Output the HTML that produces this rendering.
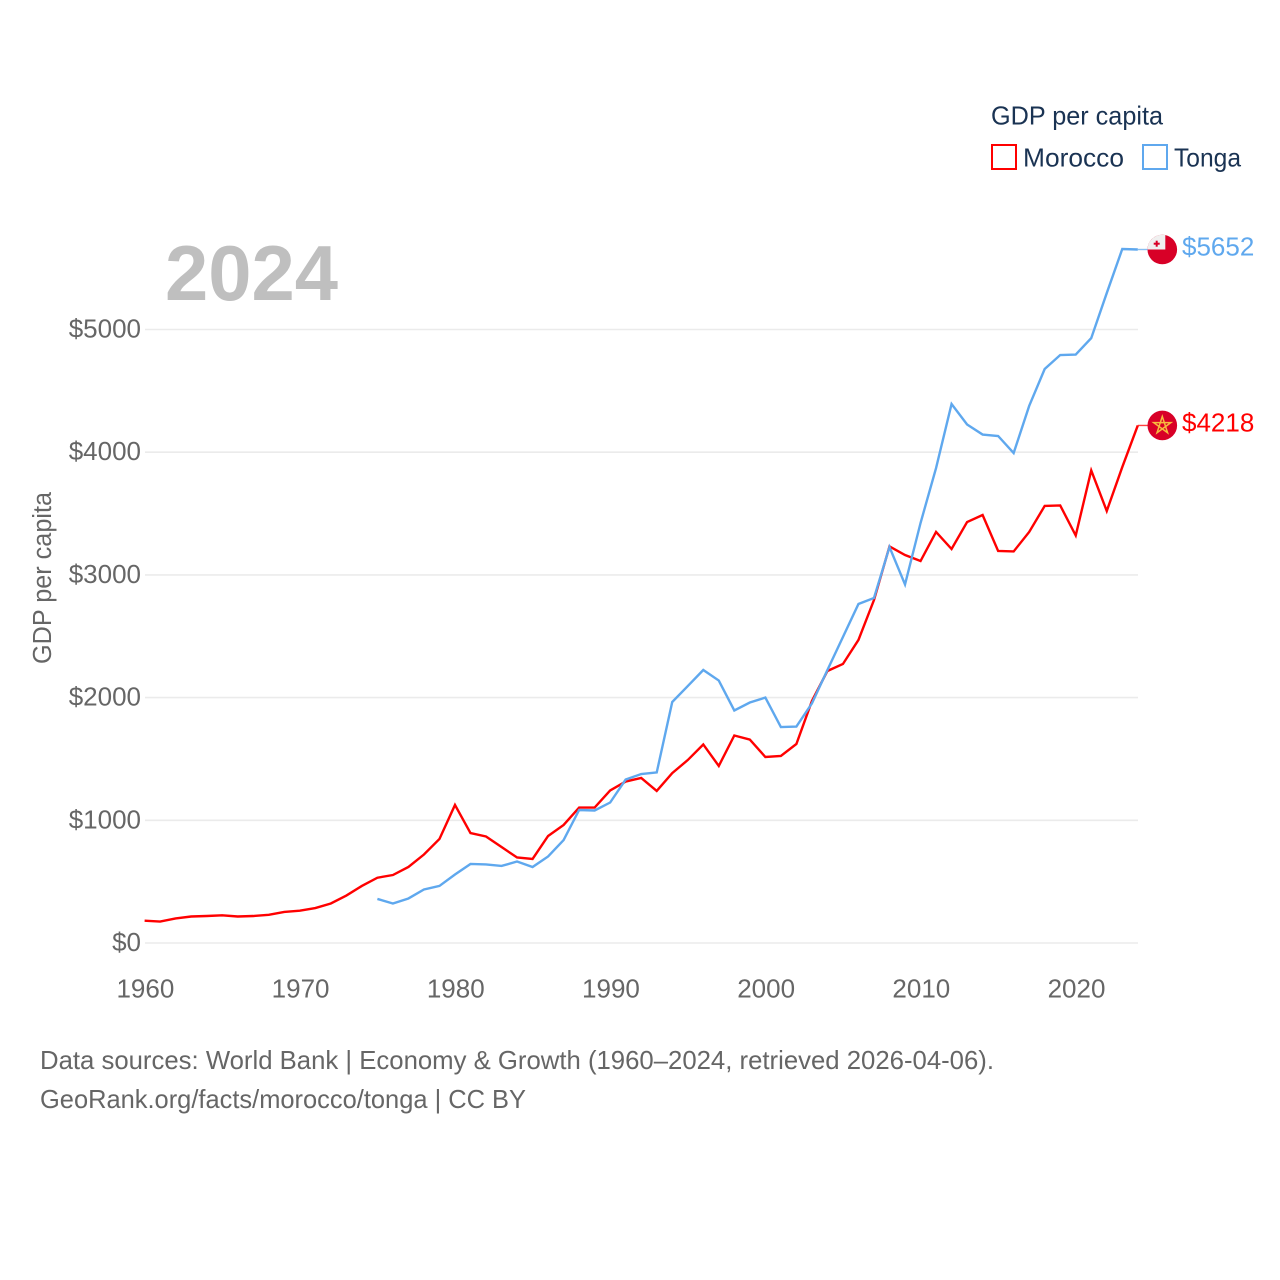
<!DOCTYPE html>
<html lang="en">
<head>
<meta charset="utf-8">
<title>GDP per capita: Morocco and Tonga</title>
<style>
html,body{margin:0;padding:0;background:#fff;}
svg{display:block;}
text{font-family:"Liberation Sans",sans-serif;}
</style>
</head>
<body>
<svg id="chart" xmlns="http://www.w3.org/2000/svg" width="1280" height="1280" viewBox="0 0 1280 1280">
  <g id="grid"></g>
  <g id="y-ticks"></g>
  <g id="x-ticks"></g>
  <text x="165" y="300" font-size="78" font-weight="700" fill="#bfbfbf" textLength="173" lengthAdjust="spacingAndGlyphs">2024</text>
  <text transform="translate(51,664) rotate(-90)" font-size="25.5" fill="#666666" textLength="172" lengthAdjust="spacingAndGlyphs">GDP per capita</text>
  <g id="series"></g>

  <g>
    <text x="991" y="124.5" font-size="26" fill="#1a3353" textLength="172" lengthAdjust="spacingAndGlyphs">GDP per capita</text>
    <rect x="992" y="145" width="24" height="24" fill="none" stroke="#ff0000" stroke-width="2"/>
    <text x="1023" y="166.5" font-size="26" fill="#1a3353" textLength="101" lengthAdjust="spacingAndGlyphs">Morocco</text>
    <rect x="1143" y="145" width="24" height="24" fill="none" stroke="#5fa8ee" stroke-width="2"/>
    <text x="1174" y="166.5" font-size="26" fill="#1a3353" textLength="67" lengthAdjust="spacingAndGlyphs">Tonga</text>
  </g>

  <g id="flag-tonga"></g>
  <g id="flag-morocco"></g>

  <text id="label-tonga" x="1182" y="255" font-size="26" fill="#5fa8ee">$5652</text>
  <text id="label-morocco" x="1182" y="431" font-size="26" fill="#ff0000">$4218</text>

  <text x="40" y="1069" font-size="26" fill="#666666" textLength="954" lengthAdjust="spacingAndGlyphs">Data sources: World Bank | Economy &amp; Growth (1960–2024, retrieved 2026-04-06).</text>
  <text x="40" y="1108" font-size="26" fill="#666666" textLength="486" lengthAdjust="spacingAndGlyphs">GeoRank.org/facts/morocco/tonga | CC BY</text>
</svg>
<script>
const years = [];
for (let y = 1960; y <= 2024; y++) years.push(y);
const yTickValues = [0, 1000, 2000, 3000, 4000, 5000];
const xTickValues = [1960, 1970, 1980, 1990, 2000, 2010, 2020];
const moroccoValues = [182,175,200,216,220,226,216,220,230,253,263,285,322,387,465,532,554,620,721,848,1125,896,868,782,697,685,872,962,1104,1104,1243,1316,1345,1239,1385,1491,1618,1443,1691,1658,1516,1524,1622,1972,2217,2274,2470,2795,3232,3162,3113,3350,3211,3431,3488,3195,3191,3350,3562,3566,3321,3851,3521,3879,4218];
const tongaYears = [];
for (let y = 1975; y <= 2024; y++) tongaYears.push(y);
const tongaValues = [359,322,363,436,465,558,644,640,628,664,619,705,839,1084,1080,1145,1332,1377,1390,1964,2094,2225,2139,1895,1960,2000,1760,1764,1953,2225,2494,2763,2812,3227,2922,3423,3871,4393,4226,4144,4132,3993,4377,4678,4792,4796,4930,5297,5656,5652];

const NS = 'http://www.w3.org/2000/svg';
function xScale(year) { return 144.6 + (year - 1960) * (1137.8 - 144.6) / 64; }
function yScale(value) { return 943 - value * 613.5 / 5000; }
function make(tag, attrs, parent) {
  const el = document.createElementNS(NS, tag);
  for (const k in attrs) el.setAttribute(k, attrs[k]);
  parent.appendChild(el);
  return el;
}

const grid = document.getElementById('grid');
const yTicks = document.getElementById('y-ticks');
yTickValues.forEach(function (v) {
  const line = make('line', {x1: 145, x2: 1138, y1: yScale(v), y2: yScale(v), stroke: '#ebebeb', 'stroke-width': 1.6}, grid);
  
  
  const t = make('text', {x: 141, y: yScale(v) + 8, 'text-anchor': 'end', 'font-size': 26, fill: '#666666'}, yTicks);
  t.textContent = '$' + v;
  
  
});

const xTicks = document.getElementById('x-ticks');
xTickValues.forEach(function (yr) {
  const t = make('text', {x: xScale(yr) + 0.8, y: 997.5, 'text-anchor': 'middle', 'font-size': 26, fill: '#666666'}, xTicks);
  t.textContent = String(yr);
  
  
});

const seriesGroup = document.getElementById('series');
function linePoints(xs, vs) {
  return xs.map(function (x, i) { return xScale(x).toFixed(2) + ',' + yScale(vs[i]).toFixed(2); }).join(' ');
}
const moroccoLine = make('polyline', {points: linePoints(years, moroccoValues), fill: 'none', stroke: '#ff0000', 'stroke-width': 2.4, 'stroke-linejoin': 'miter'}, seriesGroup);


const tongaLine = make('polyline', {points: linePoints(tongaYears, tongaValues), fill: 'none', stroke: '#5fa8ee', 'stroke-width': 2.4, 'stroke-linejoin': 'miter'}, seriesGroup);



const lastMorocco = moroccoValues[moroccoValues.length - 1];
const lastTonga = tongaValues[tongaValues.length - 1];
const moroccoConnector = make('line', {x1: xScale(2024), x2: 1148, y1: yScale(lastMorocco), y2: yScale(lastMorocco), stroke: '#ff0000', 'stroke-width': 1.4, 'stroke-opacity': 0.75}, seriesGroup);


const tongaConnector = make('line', {x1: xScale(2024), x2: 1148, y1: yScale(lastTonga), y2: yScale(lastTonga), stroke: '#5fa8ee', 'stroke-width': 1.4, 'stroke-opacity': 0.75}, seriesGroup);



const flagT = document.getElementById('flag-tonga');
const ty = yScale(lastTonga);
flagT.setAttribute('transform', 'translate(1162.3,' + ty.toFixed(2) + ')');
make('circle', {r: 14.8, fill: '#d80027'}, flagT);
make('path', {d: 'M3 0H-14.8A14.8 14.8 0 0 1 3 -14.5Z', fill: '#f0f0f0'}, flagT);
make('rect', {x: -8.6, y: -6.8, width: 6, height: 2, fill: '#d80027'}, flagT);
make('rect', {x: -6.6, y: -8.8, width: 2, height: 6, fill: '#d80027'}, flagT);

const flagM = document.getElementById('flag-morocco');
const my = yScale(lastMorocco);
flagM.setAttribute('transform', 'translate(1162.3,' + my.toFixed(2) + ')');
make('circle', {r: 14.8, fill: '#d80027'}, flagM);
make('polygon', {points: '0,-9 5.3,7.3 -8.6,-2.8 8.6,-2.8 -5.3,7.3', fill: 'none', stroke: '#f7b93e', 'stroke-width': 1.5, 'stroke-linejoin': 'miter'}, flagM);

document.getElementById('label-tonga').setAttribute('y', (ty + 6).toFixed(1));
document.getElementById('label-morocco').setAttribute('y', (my + 6).toFixed(1));
document.getElementById('label-tonga').textContent = '$' + lastTonga;
document.getElementById('label-morocco').textContent = '$' + lastMorocco;
</script>
</body>
</html>
